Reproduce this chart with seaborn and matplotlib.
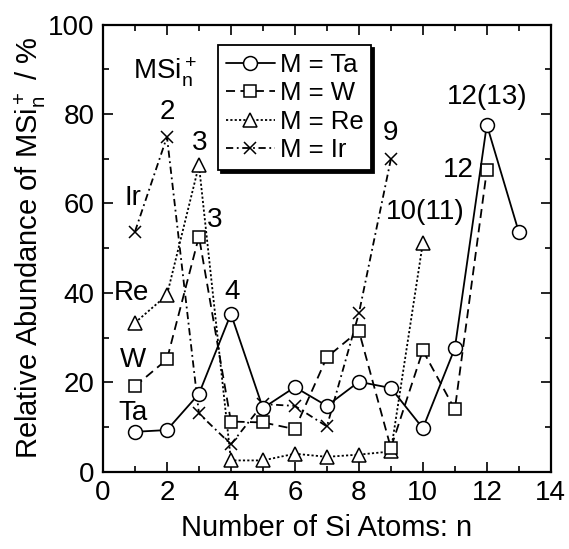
import numpy as np
import pandas as pd
import matplotlib
matplotlib.use("Agg")
import matplotlib.pyplot as plt
import seaborn as sns
from matplotlib.ticker import MultipleLocator

# ---- data ----
n_ta = [1, 2, 3, 4, 5, 6, 7, 8, 9, 10, 11, 12, 13]
y_ta = [8.9, 9.3, 17.4, 35.3, 14.2, 18.9, 14.7, 20.1, 18.7, 9.7, 27.6, 77.6, 53.6]
n_w = [1, 2, 3, 4, 5, 6, 7, 8, 9, 10, 11, 12]
y_w = [19.1, 25.1, 52.6, 11.2, 11.0, 9.5, 25.6, 31.5, 5.3, 27.1, 13.9, 67.4]
n_re = [1, 2, 3, 4, 5, 6, 7, 8, 9, 10]
y_re = [33.3, 39.5, 68.6, 2.5, 2.5, 4.0, 3.3, 3.8, 4.5, 51.2]
n_ir = [1, 2, 3, 4, 5, 6, 7, 8, 9]
y_ir = [53.7, 74.9, 13.0, 6.1, 15.1, 14.7, 10.1, 35.4, 69.9]

series_labels = ["M = Ta", "M = W", "M = Re", "M = Ir"]
annot_texts = ["Ta", "W", "Re", "Ir", "2", "3", "3", "4", "9", "10(11)", "12", "12(13)"]
annot_x = [0.94, 0.94, 0.9, 0.94, 2.0, 3.03, 3.5, 4.03, 9.0, 10.06, 11.1, 12.0]
annot_y = [13.1, 25.0, 40.0, 61.2, 80.4, 73.5, 56.3, 40.2, 75.8, 58.1, 67.5, 83.8]

x_label = "Number of Si Atoms: n"
y_label = r"Relative Abundance of MSi$_\mathrm{n}^+$ / %"

sns.set_theme(style="ticks")
plt.rcParams["font.family"] = ["Liberation Sans", "DejaVu Sans"]
plt.rcParams["mathtext.fontset"] = "custom"
plt.rcParams["mathtext.rm"] = "Liberation Sans"
plt.rcParams["mathtext.it"] = "Liberation Sans:italic"
plt.rcParams["text.color"] = "black"
plt.rcParams["axes.labelcolor"] = "black"
plt.rcParams["xtick.color"] = "black"
plt.rcParams["ytick.color"] = "black"

fig = plt.figure(figsize=(5.69, 5.49), dpi=100)
ax = fig.add_axes([0.181, 0.141, 0.787, 0.814])

lw = 1.3
common = dict(color="black", markerfacecolor="white", markeredgecolor="black",
              markeredgewidth=1.1, linewidth=lw)

df_ta = pd.DataFrame({"n": n_ta, "y": y_ta})
df_w = pd.DataFrame({"n": n_w, "y": y_w})
df_re = pd.DataFrame({"n": n_re, "y": y_re})
df_ir = pd.DataFrame({"n": n_ir, "y": y_ir})

sns.lineplot(data=df_ir, x="n", y="y", ax=ax, marker="x", markersize=9,
             label=series_labels[3], **common)
ax.lines[-1].set_dashes([4, 2, 1, 2])
sns.lineplot(data=df_re, x="n", y="y", ax=ax, marker="^", markersize=10,
             label=series_labels[2], **common)
ax.lines[-1].set_dashes([1.2, 1.2])
sns.lineplot(data=df_w, x="n", y="y", ax=ax, marker="s", markersize=8.5,
             label=series_labels[1], **common)
ax.lines[-1].set_dashes([5, 3])
sns.lineplot(data=df_ta, x="n", y="y", ax=ax, marker="o", markersize=10,
             label=series_labels[0], **common)

ax.set_xlim(0, 14)
ax.set_ylim(0, 100)
ax.xaxis.set_major_locator(MultipleLocator(2))
ax.xaxis.set_minor_locator(MultipleLocator(1))
ax.yaxis.set_major_locator(MultipleLocator(20))
ax.yaxis.set_minor_locator(MultipleLocator(10))
ax.tick_params(which="both", direction="in", top=True, right=True,
               width=1.2, colors="black", labelsize=20)
ax.tick_params(axis="x", which="major", pad=6)
ax.tick_params(axis="y", which="major", pad=6)
ax.tick_params(which="major", length=7)
ax.tick_params(which="minor", length=4)
for s in ax.spines.values():
    s.set_linewidth(1.6)
    s.set_color("black")
    s.set_visible(True)

ax.set_xlabel(x_label, fontsize=21, labelpad=6, color="black")
ax.set_ylabel(y_label, fontsize=21, labelpad=0, color="black")

for t, x, y in zip(annot_texts, annot_x, annot_y):
    ax.text(x, y, t, ha="center", va="center", fontsize=20, color="black")
ax.text(1.95, 89.4, r"MSi$_\mathrm{n}^+$", ha="center", va="center",
        fontsize=20, color="black")

handles, labels = ax.get_legend_handles_labels()
order = [labels.index(l) for l in series_labels]
leg = ax.legend([handles[i] for i in order], [labels[i] for i in order],
                loc="upper left", bbox_to_anchor=(0.257, 0.955), borderaxespad=0,
                fontsize=18.5, frameon=True, fancybox=False, edgecolor="black",
                framealpha=1, shadow={"color": "black", "alpha": 1},
                handlelength=1.9, handletextpad=0.2, labelspacing=0.18,
                borderpad=0.3)
leg.get_frame().set_linewidth(1.3)
for txt in leg.get_texts():
    txt.set_color("black")

fig.savefig("out.png", dpi=100)
